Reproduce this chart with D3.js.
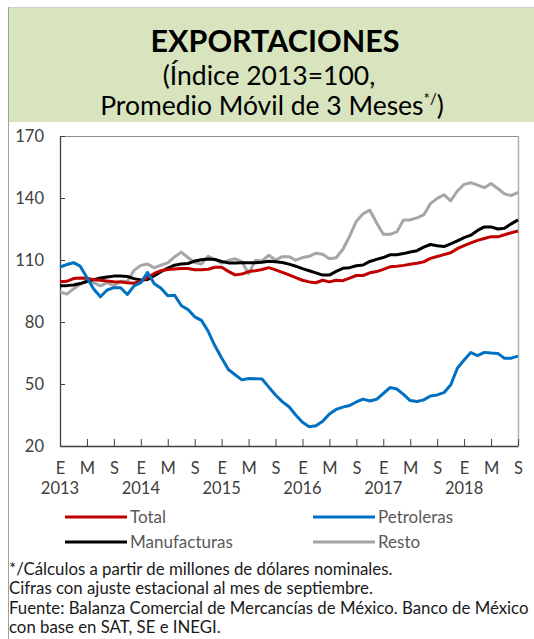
<!DOCTYPE html>
<html><head><meta charset="utf-8">
<script src="https://cdn.jsdelivr.net/npm/d3@7"></script>
<style>body{margin:0;background:#fff}svg{display:block}</style>
</head><body>
<svg id="c" width="534" height="639"></svg>
<script>
const total=[99.5,99.7,101,101.3,101.2,100.5,100.2,99.8,99.5,99.3,99,98.8,99.8,101.5,103.5,104.8,105.4,105.7,105.9,105.9,105.3,105.3,105.5,106.5,106.5,104.5,102.8,103.2,104.4,104.8,105.4,106.3,105.2,104,102.8,101.5,100.2,99.4,99,100.2,99.4,100.2,100,101.2,102.5,102.5,103.8,104.4,105.5,106.7,107,107.4,107.9,108.4,109.1,110.8,111.7,112.6,113.5,115.5,117,118.3,119.5,120.4,121.3,121.2,122.2,123.2,124];
const petroleras=[106.6,107.8,108.7,107,101.5,96,92.2,95.5,96.6,96.6,93.3,97.5,99,104,98.5,96.3,92.7,93,88,86,82.5,80.8,75.5,68.5,62.6,57,54.5,52,52.7,52.6,52.4,48.5,44.7,41.5,39,35,31.5,29.3,29.8,32,35.5,37.7,38.8,39.6,41.3,42.7,41.8,42.6,45.4,48.3,47.6,45,42,41.5,42.3,44.2,44.7,45.8,49.5,57.6,61.6,65.2,63.7,65.3,65,64.8,62.4,62.5,63.5];
const manufacturas=[97.6,97.6,97.9,98.6,99.6,100.5,101.3,101.8,102.2,102.3,102,101,100.3,100.6,102.4,104.3,106.1,107.5,108.1,108.3,109.5,110.1,110.5,110.3,109.3,108.6,108.6,108.7,108.7,108.7,108.9,109.4,109.2,108.8,108,107,105.8,104.8,103.8,102.7,102.7,104.5,106,106.3,107.2,107.6,109.3,110.3,111.2,112.5,112.5,113.1,113.9,114.5,116.2,117.5,116.9,116.5,117.8,119.3,120.8,122,124.3,126,126,125,125.4,127.5,129.4];
const resto=[94.6,93.5,96,98.3,100.2,99,97.5,99,97.6,99.7,99.6,105,107.4,108.1,106.2,107.5,108.6,111.5,113.8,111.2,108.8,108,111.8,110.2,108.5,109.8,110.6,109.2,103.4,109.7,109.6,112.3,110,111.6,111.6,109.9,111.2,111.8,113.3,112.8,110.6,111.1,115.2,121.5,128.8,132.4,134.1,128,122.5,122.4,123.6,129.3,129.4,130.4,131.8,137.3,139.8,141.6,138.6,143.4,146.6,147.4,146.2,145,147,144.6,142,141.2,142.7];
const yTicks=[20,50,80,110,140,170];
const monthLetters=["E","M","S"];
const years=["2013","2014","2015","2016","2017","2018"];
const seriesNames=["Total","Petroleras","Manufacturas","Resto"];
const seriesColors=["#c00000","#0070c0","#000000","#a6a6a6"];

const svg=d3.select("#c");
const font="Lato, 'Open Sans', sans-serif";
// frame
svg.append("line").attr("x1",8).attr("x2",534).attr("y1",7.5).attr("y2",7.5).attr("stroke","#cfcfcf");
svg.append("line").attr("x1",8.5).attr("x2",8.5).attr("y1",7).attr("y2",639).attr("stroke","#a0a0a0");
svg.append("rect").attr("x",9).attr("y",8).attr("width",525).attr("height",114).attr("fill","#d7e4bd");
svg.append("text").attr("x",275).attr("y",52).attr("text-anchor","middle").attr("font-family",font).attr("font-weight","bold").attr("font-size",30.5).attr("fill","#000").text("EXPORTACIONES");
svg.append("text").attr("x",269).attr("y",85).attr("text-anchor","middle").attr("font-family",font).attr("font-size",26.5).attr("fill","#000").text("(Índice 2013=100,");
const t3=svg.append("text").attr("x",272).attr("y",115).attr("text-anchor","middle").attr("font-family",font).attr("font-size",26.5).attr("fill","#000");
t3.append("tspan").text("Promedio Móvil de 3 Meses");
t3.append("tspan").attr("font-size",15).attr("dy",-11).text("*/");
t3.append("tspan").attr("dy",11).text(")");

const L=60,R=518,T=136,B=446;
const x=d3.scaleLinear().domain([0,68]).range([L,R]);
const y=d3.scaleLinear().domain([20,170]).range([B,T]);

// plot border top/right
svg.append("line").attr("x1",L).attr("x2",R).attr("y1",T+0.5).attr("y2",T+0.5).attr("stroke","#8c8c8c");
svg.append("line").attr("x1",R+0.5).attr("x2",R+0.5).attr("y1",T).attr("y2",B).attr("stroke","#b0b0b0").attr("stroke-width",1.5);

// y axis
const ya=svg.append("g").attr("transform",`translate(${L},0)`).call(d3.axisLeft(y).tickValues(yTicks).tickSize(-5).tickPadding(16).tickSizeOuter(0));
ya.select(".domain").attr("stroke","#404040").attr("stroke-width",1.3);
ya.selectAll(".tick line").attr("stroke","#404040");
ya.selectAll("text").attr("font-family",font).attr("font-size",16.5).attr("fill","#404040");

// x axis
const xt=d3.range(0,69,4);
const xa=svg.append("g").attr("transform",`translate(0,${B})`).call(d3.axisBottom(x).tickValues(xt).tickSize(-7).tickPadding(16).tickSizeOuter(0).tickFormat(d=>monthLetters[(d/4)%3]));
xa.select(".domain").attr("stroke","#404040").attr("stroke-width",1.3);
xa.selectAll(".tick line").attr("stroke","#404040");
xa.selectAll("text").attr("font-family",font).attr("font-size",16.5).attr("fill","#404040");
svg.append("g").selectAll("text").data(years).join("text").attr("x",(d,i)=>x(i*12)).attr("y",494).attr("text-anchor","middle").attr("font-family",font).attr("font-size",16.5).attr("fill","#404040").text(d=>d);

// lines
const line=d3.line().x((d,i)=>x(i)).y(d=>y(d));
const data=[resto,manufacturas,total,petroleras];
const cols=["#a6a6a6","#000000","#c00000","#0070c0"];
data.forEach((s,k)=>{
  svg.append("path").datum(s).attr("d",line).attr("fill","none").attr("stroke",cols[k]).attr("stroke-width",3).attr("stroke-linejoin","round");
});

// legend
const lg=[[65,517],[313,517],[65,542],[313,542]];
seriesNames.forEach((n,i)=>{
  const [lx,ly]=lg[i];
  svg.append("line").attr("x1",lx).attr("x2",lx+62).attr("y1",ly).attr("y2",ly).attr("stroke",seriesColors[i]).attr("stroke-width",3);
  svg.append("text").attr("x",lx+65).attr("y",ly+6).attr("font-family",font).attr("font-size",17).attr("fill","#595959").text(n);
});

// notes
const notes=["*/Cálculos a partir de millones de dólares nominales.","Cifras con ajuste estacional al mes de septiembre.","Fuente: Balanza Comercial de Mercancías de México. Banco de México","con base en SAT, SE e INEGI."];
svg.append("g").selectAll("text").data(notes).join("text").attr("x",9).attr("y",(d,i)=>575+i*19.3).attr("font-family",font).attr("font-size",16.8).attr("fill","#1a1a1a").text(d=>d);
</script>
</body></html>
